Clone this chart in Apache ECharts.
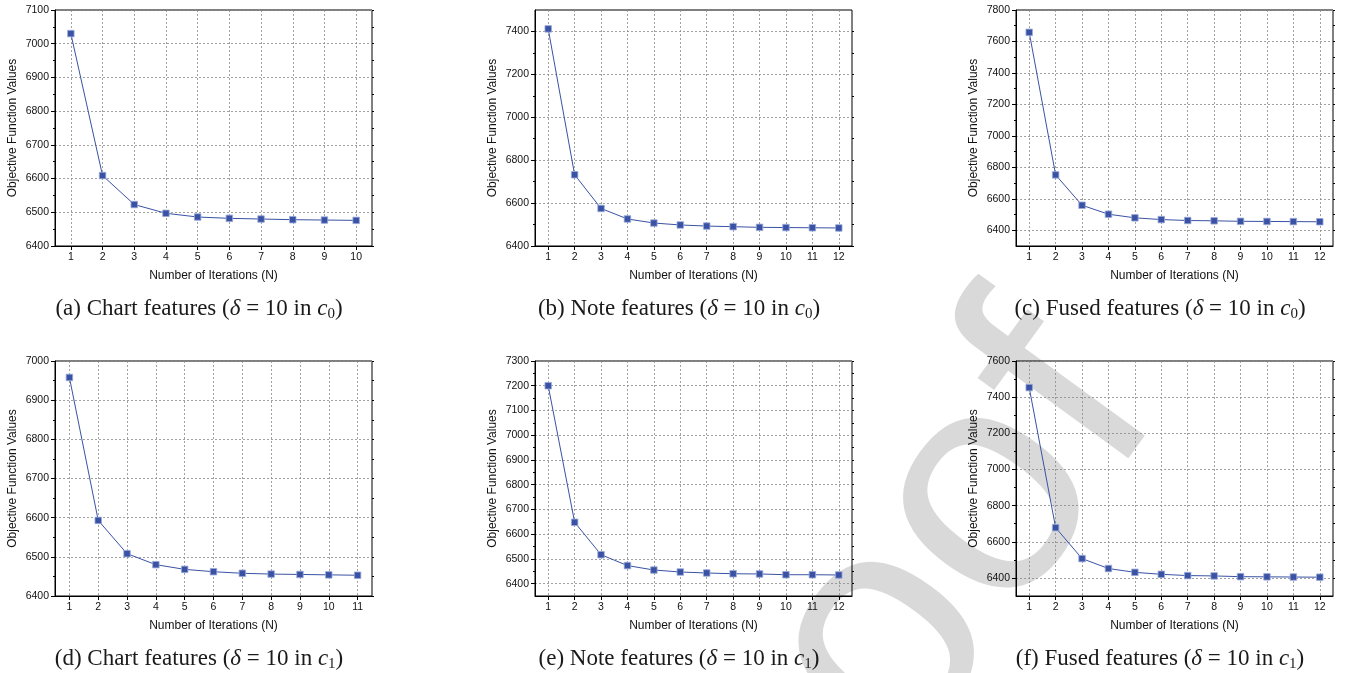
<!DOCTYPE html>
<html>
<head>
<meta charset="utf-8">
<script src="https://cdn.jsdelivr.net/npm/echarts@6/dist/echarts.min.js"></script>
<style>
html,body{margin:0;padding:0;background:#fff;}
#chart{width:1345px;height:673px;}
</style>
</head>
<body>
<div id="chart"></div>
<script>
// ---- data ----
const iters10 = [1, 2, 3, 4, 5, 6, 7, 8, 9, 10];
const iters11 = [1, 2, 3, 4, 5, 6, 7, 8, 9, 10, 11];
const iters12 = [1, 2, 3, 4, 5, 6, 7, 8, 9, 10, 11, 12];

const chartC0 = [7030, 6609, 6523, 6497, 6486, 6482, 6480, 6478, 6477, 6476];
const noteC0  = [7412, 6732, 6575, 6526, 6507, 6498, 6493, 6490, 6487, 6486, 6485, 6484];
const fusedC0 = [7658, 6752, 6559, 6502, 6479, 6468, 6462, 6460, 6457, 6456, 6455, 6454];
const chartC1 = [6958, 6593, 6508, 6480, 6468, 6462, 6458, 6456, 6455, 6454, 6453];
const noteC1  = [7200, 6648, 6517, 6473, 6455, 6447, 6443, 6440, 6439, 6436, 6436, 6435];
const fusedC1 = [7453, 6678, 6507, 6452, 6431, 6420, 6413, 6411, 6407, 6406, 6405, 6404];

const ticksA = [6400, 6500, 6600, 6700, 6800, 6900, 7000, 7100];
const ticksB = [6400, 6600, 6800, 7000, 7200, 7400];
const ticksC = [6400, 6600, 6800, 7000, 7200, 7400, 7600, 7800];
const ticksD = [6400, 6500, 6600, 6700, 6800, 6900, 7000];
const ticksE = [6400, 6500, 6600, 6700, 6800, 6900, 7000, 7100, 7200, 7300];
const ticksF = [6400, 6600, 6800, 7000, 7200, 7400, 7600];

const rangeA = [6400, 7100];
const rangeB = [6400, 7500];
const rangeC = [6300, 7800];
const rangeD = [6400, 7000];
const rangeE = [6350, 7300];
const rangeF = [6300, 7600];

const captionNames = ['Chart features', 'Note features', 'Fused features', 'Chart features', 'Note features', 'Fused features'];
const captionLetters = ['a', 'b', 'c', 'd', 'e', 'f'];
const captionSubs = ['0', '0', '0', '1', '1', '1'];

const xTitle = 'Number of Iterations (N)';
const yTitle = 'Objective Function Values';
const watermark = 'Proof';

// ---- layout ----
const panels = [
  {iters: iters10, vals: chartC0, ticks: ticksA, range: rangeA, left: 55,  top: 10,  w: 317, h: 236},
  {iters: iters12, vals: noteC0,  ticks: ticksB, range: rangeB, left: 535, top: 10,  w: 317, h: 236},
  {iters: iters12, vals: fusedC0, ticks: ticksC, range: rangeC, left: 1016, top: 10, w: 317, h: 236},
  {iters: iters11, vals: chartC1, ticks: ticksD, range: rangeD, left: 55,  top: 361, w: 317, h: 235},
  {iters: iters12, vals: noteC1,  ticks: ticksE, range: rangeE, left: 535, top: 361, w: 317, h: 235},
  {iters: iters12, vals: fusedC1, ticks: ticksF, range: rangeF, left: 1016, top: 361, w: 317, h: 235}
];

const SANS = '"Liberation Sans", Arial, sans-serif';
const SERIF = '"Liberation Serif", "Times New Roman", serif';
const BLUE = '#3a52a4';
const gridLine = {show: true, lineStyle: {color: '#8a8a8a', type: [2, 2], width: 0.8}};
const plain = v => String(v);

const grids = [], xAxes = [], yAxes = [], series = [], titles = [];

panels.forEach((p, i) => {
  grids.push({left: p.left, top: p.top, width: p.w, height: p.h, show: true,
    borderColor: '#000', borderWidth: 1, backgroundColor: 'transparent'});
  const minors = [];
  for (let k = 0; k < p.ticks.length - 1; k++) minors.push((p.ticks[k] + p.ticks[k + 1]) / 2);
  const allTicks = p.ticks.concat(minors);

  xAxes.push({
    gridIndex: i, type: 'value', position: 'bottom',
    min: 0.5, max: p.iters.length + 0.5,
    name: xTitle, nameLocation: 'middle', nameGap: 24,
    nameTextStyle: {fontFamily: SANS, fontSize: 12, color: '#111'},
    axisLine: {show: true, onZero: false, lineStyle: {color: '#000', width: 1}},
    axisTick: {show: true, inside: false, length: 4, customValues: p.iters, lineStyle: {color: '#000', width: 1}},
    axisLabel: {show: true, customValues: p.iters, formatter: plain, margin: 6, fontFamily: SANS, fontSize: 10.5, color: '#111'},
    splitLine: gridLine
  });
  yAxes.push({
    gridIndex: i, type: 'value', position: 'left',
    min: p.range[0], max: p.range[1],
    name: yTitle, nameLocation: 'middle', nameGap: 36, nameRotate: 90,
    nameTextStyle: {fontFamily: SANS, fontSize: 12, color: '#111'},
    axisLine: {show: true, onZero: false, lineStyle: {color: '#000', width: 1}},
    axisTick: {show: true, inside: false, length: 4, customValues: p.ticks, lineStyle: {color: '#000', width: 1}},
    axisLabel: {show: true, customValues: p.ticks, formatter: plain, margin: 6, fontFamily: SANS, fontSize: 10.5, color: '#111'},
    splitLine: gridLine
  });
  yAxes.push({
    gridIndex: i, type: 'value', position: 'left',
    min: p.range[0], max: p.range[1],
    axisLine: {show: false},
    axisTick: {show: true, inside: false, length: 2, customValues: minors, lineStyle: {color: '#000', width: 1}},
    axisLabel: {show: false},
    splitLine: {show: false}
  });
  yAxes.push({
    gridIndex: i, type: 'value', position: 'right',
    min: p.range[0], max: p.range[1],
    axisLine: {show: false},
    axisTick: {show: true, inside: false, length: 2, customValues: allTicks, lineStyle: {color: '#000', width: 1}},
    axisLabel: {show: false},
    splitLine: {show: false}
  });

  series.push({
    type: 'line', xAxisIndex: i, yAxisIndex: i * 3,
    data: p.iters.map((it, k) => [it, p.vals[k]]),
    symbol: 'rect', symbolSize: 6.5,
    lineStyle: {color: BLUE, width: 1},
    itemStyle: {color: BLUE, borderColor: '#9aaadb', borderWidth: 0.8},
    z: 5, animation: false
  });

  const cx = p.left + 144;
  const cy = p.top + p.h + 63;
  titles.push({
    text: '{n|(' + captionLetters[i] + ') ' + captionNames[i] + ' (}{i|δ}{n| = 10 in }{i|c}{s|' + captionSubs[i] + '}{n|)}',
    left: cx, top: cy, textAlign: 'center', textVerticalAlign: 'middle', padding: 0,
    textStyle: {
      fontWeight: 'normal',
      rich: {
        n: {fontFamily: SERIF, fontWeight: 'normal', fontSize: 23, color: '#1a1a1a', lineHeight: 26},
        i: {fontFamily: SERIF, fontWeight: 'normal', fontStyle: 'italic', fontSize: 23, color: '#1a1a1a', lineHeight: 26},
        s: {fontFamily: SERIF, fontWeight: 'normal', fontSize: 15, color: '#1a1a1a', lineHeight: 16, padding: [10, 0, 0, 0]}
      }
    }
  });
});

const option = {
  backgroundColor: '#fff',
  animation: false,
  title: titles,
  grid: grids,
  xAxis: xAxes,
  yAxis: yAxes,
  series: series,
  graphic: [{
    type: 'text', x: 643, y: 976, rotation: 54 * Math.PI / 180, z: -100, silent: true,
    style: {text: watermark, font: '320px "Liberation Sans"', fill: '#d9d9d9',
      align: 'left', textAlign: 'left', verticalAlign: 'middle', textVerticalAlign: 'middle'}
  }]
};

const chart = echarts.init(document.getElementById('chart'), null, {renderer: 'canvas'});
chart.setOption(option);
</script>
</body>
</html>
